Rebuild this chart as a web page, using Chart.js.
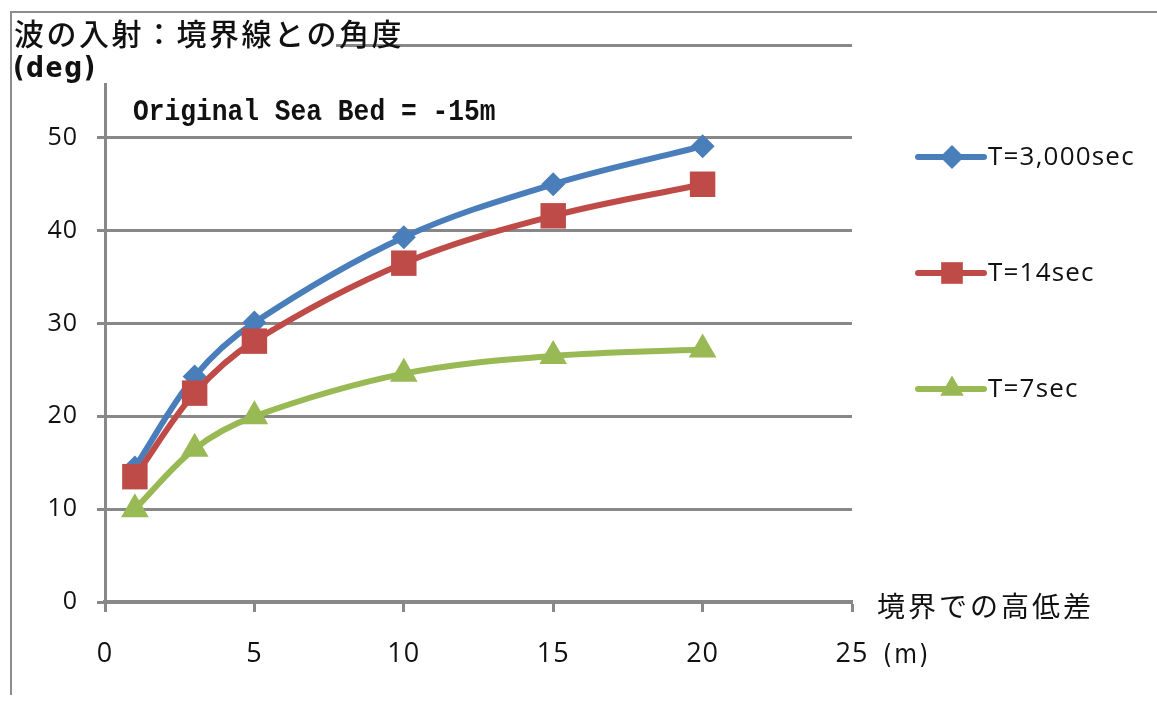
<!DOCTYPE html>
<html>
<head>
<meta charset="utf-8">
<script src="https://cdn.jsdelivr.net/npm/chart.js@4/dist/chart.umd.min.js"></script>
<style>
  html, body { margin: 0; padding: 0; background: #fff; }
  #wrap { width: 1157px; height: 702px; position: relative; }
</style>
</head>
<body>
<div id="wrap"><canvas id="myChart" width="1157" height="702"></canvas></div>
<script>
// height difference at the boundary (m)
var heights = [1, 3, 5, 10, 15, 20];
// incident angle to the boundary line (deg)
var angle3000 = [14.5, 24.3, 30.1, 39.3, 45.0, 49.1];
var angle14 = [13.5, 22.5, 28.1, 36.5, 41.6, 45.0];
var angle7 = [10.0, 16.5, 20.0, 24.6, 26.5, 27.2];
var seriesNames = ['T=3,000sec', 'T=14sec', 'T=7sec'];
var xTicks = [0, 5, 10, 15, 20, 25];
var yTicks = [0, 10, 20, 30, 40, 50, 60];

var gridGray = '#888888';
var tickFont = "'Open Sans', 'Noto Sans', sans-serif";
var narrowFont = "'Liberation Sans Narrow', 'DejaVu Sans Condensed', 'Liberation Sans', sans-serif";
var cjkFont = "'Noto Sans CJK JP', sans-serif";

function toPoints(ys) {
    return heights.map(function (h, i) { return { x: h, y: ys[i] }; });
}

var series = [
    { label: seriesNames[0], data: toPoints(angle3000), color: '#4a7ebb', style: 'rectRot', radius: 12, order: 3 },
    { label: seriesNames[1], data: toPoints(angle14), color: '#be4b48', style: 'rect', radius: 18, order: 2 },
    { label: seriesNames[2], data: toPoints(angle7), color: '#98b954', style: 'triangle', radius: 16, order: 1 }
];

// marker shape used in the hand-drawn legend
function drawMarker(ctx, style, x, y, r) {
    ctx.beginPath();
    if (style === 'rectRot') {
        ctx.moveTo(x, y - r); ctx.lineTo(x + r, y); ctx.lineTo(x, y + r); ctx.lineTo(x - r, y);
    } else if (style === 'rect') {
        var h = r * Math.SQRT1_2;
        ctx.rect(x - h, y - h, 2 * h, 2 * h);
    } else {
        var hw = r * Math.sqrt(3) / 2;
        ctx.moveTo(x, y - r); ctx.lineTo(x + hw, y + r / 2); ctx.lineTo(x - hw, y + r / 2);
    }
    ctx.closePath();
    ctx.fill();
}

var decorations = {
    id: 'decorations',
    beforeDraw: function (chart) {
        var ctx = chart.ctx;
        ctx.save();
        ctx.fillStyle = '#fff';
        ctx.fillRect(0, 0, chart.width, chart.height);
        // outer frame
        ctx.strokeStyle = '#8c8c8c';
        ctx.lineWidth = 2;
        ctx.beginPath();
        ctx.moveTo(11, 695);
        ctx.lineTo(11, 12);
        ctx.lineTo(chart.width, 12);
        ctx.stroke();
        ctx.restore();
        // tick labels are slightly spaced out
        ctx.letterSpacing = '1px';
    },
    afterDraw: function (chart) {
        var ctx = chart.ctx;
        var area = chart.chartArea;
        ctx.letterSpacing = '0px';
        ctx.save();
        // axis title boxes sit over the top gridline and the axis
        ctx.fillStyle = '#fff';
        ctx.fillRect(12, 13, 324, 40);
        ctx.fillRect(12, 53, 96, 30);

        ctx.fillStyle = '#111';
        ctx.textBaseline = 'middle';
        ctx.textAlign = 'left';
        ctx.font = '500 30px ' + cjkFont;
        ctx.letterSpacing = '2.5px';
        ctx.fillText('波の入射：境界線との角度', 14, 34);
        ctx.font = 'bold 28px ' + narrowFont;
        ctx.letterSpacing = '1.5px';
        ctx.fillText('(deg)', 13, 70);

        ctx.font = '28px ' + cjkFont;
        ctx.letterSpacing = '3px';
        ctx.fillText('境界での高低差', area.right + 25, 606);
        ctx.font = '26px ' + narrowFont;
        ctx.letterSpacing = '2px';
        ctx.fillText('(m)', area.right + 31, 656);
        ctx.letterSpacing = '0px';

        ctx.font = "bold 26px 'Liberation Mono', 'DejaVu Sans Mono', monospace";
        ctx.save();
        ctx.translate(133, 112);
        ctx.scale(1.01, 1.15);
        ctx.fillText('Original Sea Bed = -15m', 0, 0);
        ctx.restore();

        // legend
        var lx = area.right + 66;
        series.forEach(function (s, i) {
            var y = 157 + i * 116;
            ctx.strokeStyle = s.color;
            ctx.fillStyle = s.color;
            ctx.lineWidth = 6;
            ctx.lineCap = 'round';
            ctx.beginPath();
            ctx.moveTo(lx, y);
            ctx.lineTo(lx + 66, y);
            ctx.stroke();
            drawMarker(ctx, s.style, lx + 34, y, s.style === 'rectRot' ? s.radius : s.radius * 0.85);
            ctx.fillStyle = '#111';
            ctx.font = '26px ' + tickFont;
            ctx.letterSpacing = '1.2px';
            ctx.fillText(s.label, lx + 70, y + 1);
            ctx.letterSpacing = '0px';
        });
        ctx.restore();
    }
};

var ctx = document.getElementById('myChart').getContext('2d');
var myChart = new Chart(ctx, {
    type: 'line',
    data: {
        datasets: series.map(function (s) {
            return {
                label: s.label,
                data: s.data,
                borderColor: s.color,
                backgroundColor: s.color,
                borderWidth: 6,
                pointStyle: s.style,
                pointRadius: s.radius,
                pointBorderWidth: 0,
                pointBackgroundColor: s.color,
                tension: 0.35,
                order: s.order,
                fill: false
            };
        })
    },
    options: {
        responsive: false,
        animation: false,
        devicePixelRatio: 1,
        layout: { padding: { left: 0, right: 305, top: 45, bottom: 0 } },
        plugins: {
            legend: { display: false },
            tooltip: { enabled: false }
        },
        scales: {
            x: {
                type: 'linear',
                min: 0,
                max: 25,
                afterBuildTicks: function (scale) {
                    scale.ticks = xTicks.map(function (v) { return { value: v }; });
                },
                afterFit: function (scale) { scale.height = 100; },
                grid: {
                    drawOnChartArea: false,
                    drawTicks: true,
                    tickLength: 10,
                    tickWidth: 3,
                    tickColor: gridGray
                },
                border: { color: gridGray, width: 4 },
                ticks: {
                    padding: 26,
                    color: '#111',
                    font: { family: tickFont, size: 27 }
                }
            },
            y: {
                min: 0,
                max: 60,
                afterBuildTicks: function (scale) {
                    scale.ticks = yTicks.map(function (v) { return { value: v }; });
                },
                afterFit: function (scale) { scale.width = 105; },
                grid: {
                    color: gridGray,
                    lineWidth: 3,
                    drawTicks: true,
                    tickLength: 8
                },
                border: { color: gridGray, width: 3 },
                ticks: {
                    padding: 19,
                    color: '#111',
                    font: { family: tickFont, size: 25 },
                    callback: function (v) { return v === 60 ? '' : v; }
                }
            }
        }
    },
    plugins: [decorations]
});
</script>
</body>
</html>
